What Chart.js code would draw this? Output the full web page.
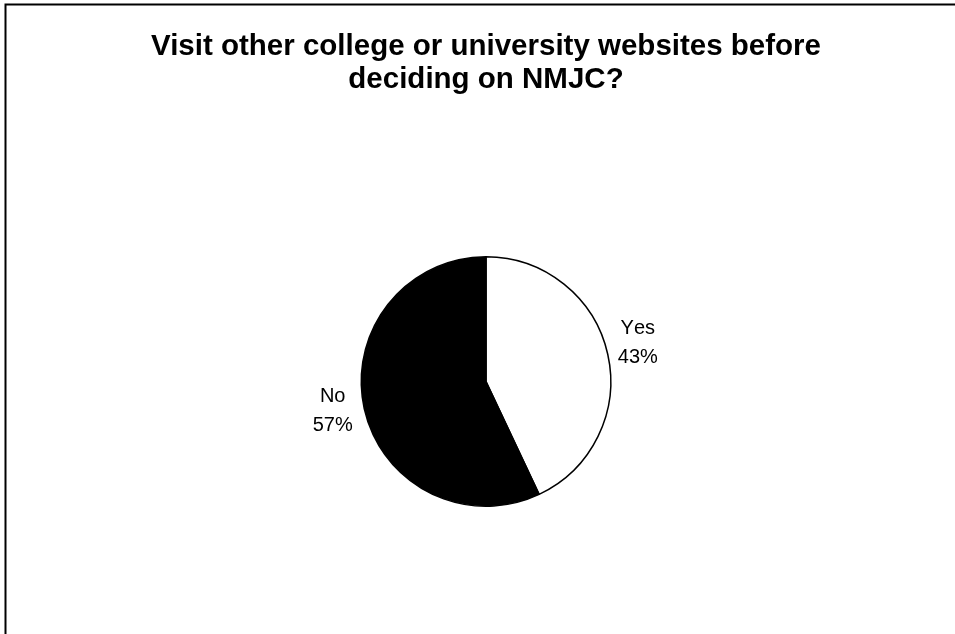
<!DOCTYPE html>
<html>
<head>
<meta charset="utf-8">
<script src="https://cdn.jsdelivr.net/npm/chart.js@4/dist/chart.umd.min.js"></script>
<style>
	html, body { margin: 0; padding: 0; background: #ffffff; }
	#wrap { width: 955px; height: 634px; position: relative; }
</style>
</head>
<body>
<div id="wrap"><canvas id="pie"></canvas></div>
<script>
var titleLines = ["Visit other college or university websites before", "deciding on NMJC?"];
var categories = ["Yes", "No"];
var percentValues = [43, 57];
var sliceColors = ["#ffffff", "#000000"];

// where each label sits, in units of the pie radius from its centre
var labelPlacement = [{ dx: 1.217, dy: -0.313 }, { dx: -1.229, dy: 0.233 }];

var framePlugin = {
	id: "frame",
	beforeDraw: function (chart) {
		var ctx = chart.ctx;
		var area = chart.chartArea;
		ctx.save();
		ctx.fillStyle = "#ffffff";
		ctx.fillRect(0, 0, chart.width, chart.height);
		ctx.strokeStyle = "#000000";
		ctx.lineWidth = 2;
		ctx.strokeRect(5.5, 4.5, chart.width + 20, chart.height + 20);

		ctx.fillStyle = "#000000";
		ctx.font = "bold 29.5px 'Liberation Sans', Arial, sans-serif";
		ctx.textAlign = "center";
		ctx.textBaseline = "alphabetic";
		var cx = (area.left + area.right) / 2;
		for (var i = 0; i < titleLines.length; i++) {
			ctx.fillText(titleLines[i], cx, 55 + i * 33);
		}
		ctx.restore();
	}
};

var labelPlugin = {
	id: "sliceLabels",
	afterDatasetsDraw: function (chart) {
		var ctx = chart.ctx;
		var arcs = chart.getDatasetMeta(0).data;
		ctx.save();
		ctx.fillStyle = "#000000";
		ctx.font = "20px 'Liberation Sans', Arial, sans-serif";
		ctx.fontKerning = "none";
		ctx.textAlign = "center";
		ctx.textBaseline = "middle";
		for (var i = 0; i < arcs.length; i++) {
			var a = arcs[i];
			var x = a.x + labelPlacement[i].dx * a.outerRadius;
			var y = a.y + labelPlacement[i].dy * a.outerRadius;
			ctx.fillText(categories[i], x, y - 14);
			ctx.fillText(percentValues[i] + "%", x, y + 15);
		}
		ctx.restore();
	}
};

var ctxa = document.getElementById("pie").getContext("2d");
var pieChart = new Chart(ctxa, {
	type: "pie",
	data: {
		labels: categories,
		datasets: [
			{
				data: percentValues,
				backgroundColor: sliceColors,
				borderColor: "#000000",
				borderWidth: 1.5,
				hoverOffset: 0
			}
		]
	},
	options: {
		responsive: true,
		maintainAspectRatio: false,
		animation: false,
		layout: {
			padding: { top: 256, bottom: 127, left: 286, right: 269 }
		},
		plugins: {
			legend: { display: false },
			title: { display: false },
			tooltip: { enabled: false }
		}
	},
	plugins: [framePlugin, labelPlugin]
});
</script>
</body>
</html>
